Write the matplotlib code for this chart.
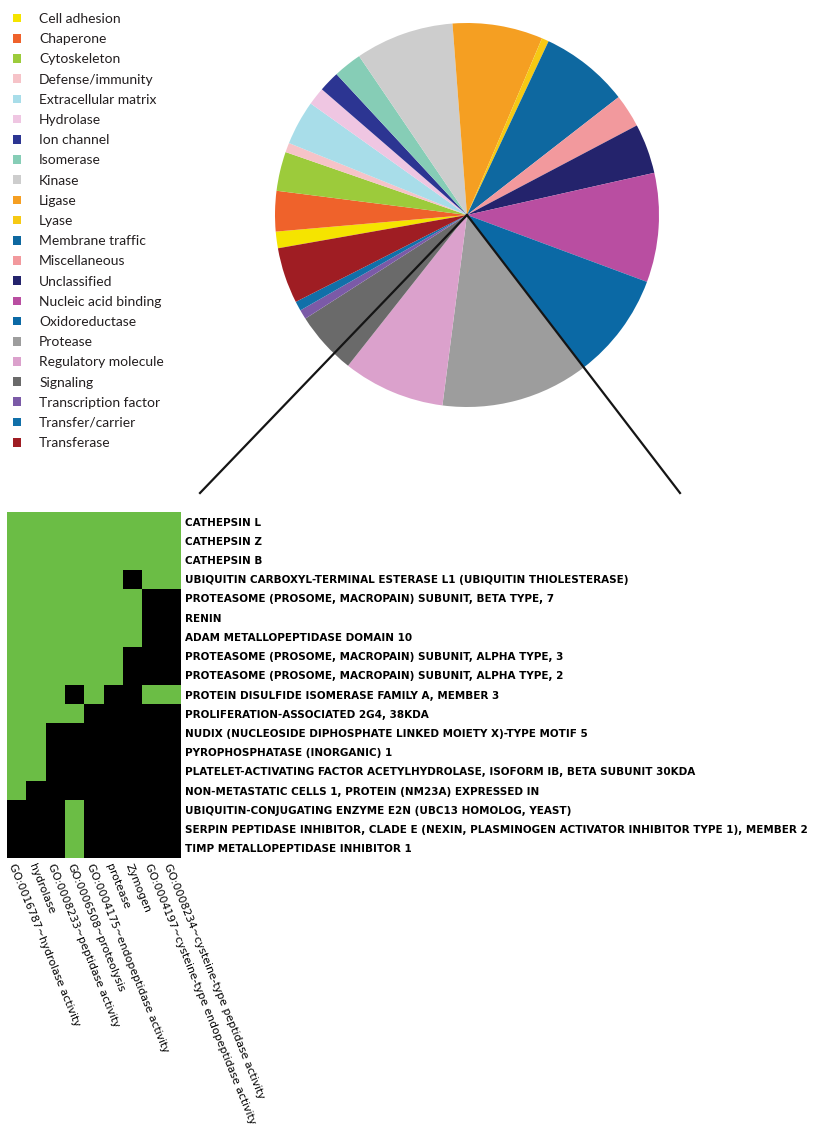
import numpy as np
import matplotlib
matplotlib.use("Agg")
import matplotlib.pyplot as plt
from matplotlib.colors import ListedColormap
from matplotlib.lines import Line2D

# =========================
# DATA
# =========================
categories = [
    "Cell adhesion", "Chaperone", "Cytoskeleton", "Defense/immunity",
    "Extracellular matrix", "Hydrolase", "Ion channel", "Isomerase",
    "Kinase", "Ligase", "Lyase", "Membrane traffic", "Miscellaneous",
    "Unclassified", "Nucleic acid binding", "Oxidoreductase", "Protease",
    "Regulatory molecule", "Signaling", "Transcription factor",
    "Transfer/carrier", "Transferase",
]
# percent of proteins per class
shares = [1.4, 3.4, 3.3, 0.8, 3.75, 1.5, 1.75, 2.4, 8.3, 7.6, 0.6, 7.5,
          2.8, 4.2, 9.2, 9.0, 12.4, 8.6, 5.3, 0.8, 0.8, 4.7]
class_colors = [
    "#f5e400", "#ef622b", "#9ccb3b", "#f6c3c8", "#a8dde9", "#efc6e2",
    "#2c3592", "#86cdb6", "#cdcdcd", "#f59f22", "#f6c914", "#0e68a0",
    "#f2999d", "#24236c", "#b94ea1", "#0b69a5", "#9d9d9d", "#dba1cc",
    "#6a6a6a", "#7b5aa7", "#1170a9", "#9f1d23",
]

genes = [
    "CATHEPSIN L",
    "CATHEPSIN Z",
    "CATHEPSIN B",
    "UBIQUITIN CARBOXYL-TERMINAL ESTERASE L1 (UBIQUITIN THIOLESTERASE)",
    "PROTEASOME (PROSOME, MACROPAIN) SUBUNIT, BETA TYPE, 7",
    "RENIN",
    "ADAM METALLOPEPTIDASE DOMAIN 10",
    "PROTEASOME (PROSOME, MACROPAIN) SUBUNIT, ALPHA TYPE, 3",
    "PROTEASOME (PROSOME, MACROPAIN) SUBUNIT, ALPHA TYPE, 2",
    "PROTEIN DISULFIDE ISOMERASE FAMILY A, MEMBER 3",
    "PROLIFERATION-ASSOCIATED 2G4, 38KDA",
    "NUDIX (NUCLEOSIDE DIPHOSPHATE LINKED MOIETY X)-TYPE MOTIF 5",
    "PYROPHOSPHATASE (INORGANIC) 1",
    "PLATELET-ACTIVATING FACTOR ACETYLHYDROLASE, ISOFORM IB, BETA SUBUNIT 30KDA",
    "NON-METASTATIC CELLS 1, PROTEIN (NM23A) EXPRESSED IN",
    "UBIQUITIN-CONJUGATING ENZYME E2N (UBC13 HOMOLOG, YEAST)",
    "SERPIN PEPTIDASE INHIBITOR, CLADE E (NEXIN, PLASMINOGEN ACTIVATOR INHIBITOR TYPE 1), MEMBER 2",
    "TIMP METALLOPEPTIDASE INHIBITOR 1",
]
terms = [
    "GO:0016787~hydrolase activity",
    "hydrolase",
    "GO:0008233~peptidase activity",
    "GO:0006508~proteolysis",
    "GO:0004175~endopeptidase activity",
    "protease",
    "Zymogen",
    "GO:0004197~cysteine-type endopeptidase activity",
    "GO:0008234~cysteine-type peptidase activity",
]
# 1 = gene annotated with term
membership = np.array([
    [1, 1, 1, 1, 1, 1, 1, 1, 1],
    [1, 1, 1, 1, 1, 1, 1, 1, 1],
    [1, 1, 1, 1, 1, 1, 1, 1, 1],
    [1, 1, 1, 1, 1, 1, 0, 1, 1],
    [1, 1, 1, 1, 1, 1, 1, 0, 0],
    [1, 1, 1, 1, 1, 1, 1, 0, 0],
    [1, 1, 1, 1, 1, 1, 1, 0, 0],
    [1, 1, 1, 1, 1, 1, 0, 0, 0],
    [1, 1, 1, 1, 1, 1, 0, 0, 0],
    [1, 1, 1, 0, 1, 0, 0, 1, 1],
    [1, 1, 1, 1, 0, 0, 0, 0, 0],
    [1, 1, 0, 0, 0, 0, 0, 0, 0],
    [1, 1, 0, 0, 0, 0, 0, 0, 0],
    [1, 1, 0, 0, 0, 0, 0, 0, 0],
    [1, 0, 0, 0, 0, 0, 0, 0, 0],
    [0, 0, 0, 1, 0, 0, 0, 0, 0],
    [0, 0, 0, 1, 0, 0, 0, 0, 0],
    [0, 0, 0, 1, 0, 0, 0, 0, 0],
])

# =========================
# LAYOUT (pixel boxes)
# =========================
W, H = 816, 1131

def box(x0, y0, x1, y1):
    return [x0 / W, 1 - y1 / H, (x1 - x0) / W, (y1 - y0) / H]

fig = plt.figure(figsize=(W / 100, H / 100), dpi=100)

# =========================
# PIE
# =========================
cx, cy, r = 467, 215, 192
ax_pie = fig.add_axes(box(cx - r, cy - r, cx + r, cy + r))
wedges, _ = ax_pie.pie(shares, colors=class_colors, startangle=-170,
                       counterclock=False, wedgeprops=dict(linewidth=0))
ax_pie.set_xlim(-1, 1)
ax_pie.set_ylim(-1, 1)
ax_pie.set_aspect("equal")

ax_pie.legend(wedges, categories, loc="upper left",
              bbox_to_anchor=(13 / W, 1 - 13 / H), bbox_transform=fig.transFigure,
              frameon=False, prop={"family": "Lato", "size": 10},
              labelcolor="#231f20", handlelength=0.58, handleheight=0.58,
              handletextpad=1.3, labelspacing=0.59, borderpad=0, borderaxespad=0)

# zoom lines from pie centre down to the heatmap
for x_end in (200, 680):
    fig.add_artist(Line2D([cx / W, x_end / W], [1 - cy / H, 1 - 493 / H],
                          transform=fig.transFigure, color="#151515", lw=1.6))

# =========================
# HEATMAP
# =========================
ax_hm = fig.add_axes(box(7, 512, 181, 858))
ax_hm.imshow(membership, cmap=ListedColormap(["black", "#6bbd45"]),
             vmin=0, vmax=1, aspect="auto", interpolation="nearest")
ax_hm.set_yticks(range(len(genes)))
ax_hm.set_yticklabels(genes, fontsize=7.5, fontweight="bold", family="DejaVu Sans")
ax_hm.yaxis.tick_right()
ax_hm.set_xticks(range(len(terms)))
ax_hm.set_xticklabels(terms, rotation=-68, ha="left", va="top",
                      rotation_mode="anchor", fontsize=7.8, family="DejaVu Sans")
ax_hm.tick_params(length=0, pad=3)
for s in ax_hm.spines.values():
    s.set_visible(False)

fig.savefig("out.png", dpi=100)
